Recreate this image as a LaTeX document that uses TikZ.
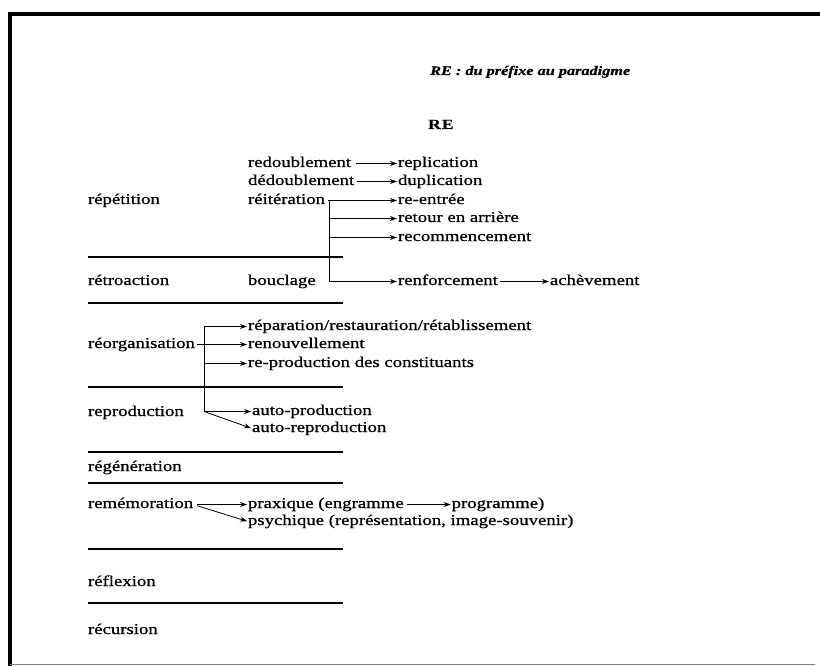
\documentclass[tikz,border=0pt]{standalone}
\usepackage{fontspec}
\setmainfont[FakeStretch=1.25, FakeBold=0.8]{Liberation Serif}
\usetikzlibrary{arrows.meta}
\begin{document}
\begin{tikzpicture}[x=1pt,y=-1pt,
  txt/.style={anchor=base west, inner sep=0pt, outer sep=0pt,
    text height=10pt, text depth=3pt, font=\fontsize{15}{18}\selectfont},
  arr/.style={-{Stealth[length=7pt,width=5pt]}, line width=0.8pt, shorten >=1pt},
  ln/.style={line width=0.8pt},
  rulebar/.style={line width=2.2pt},
  frame/.style={line width=4pt}]
\useasboundingbox (0,0) rectangle (820,666);

% page frame
\draw[frame] (8,14) -- (820,14);
\draw[frame] (10,12) -- (10,666);
\draw[gray, line width=1pt] (10,664.5) -- (815,664.5);

% headings
\node[anchor=base west, inner sep=0pt, font=\fontsize{13}{15}\selectfont\bfseries\itshape]
  (title) at (430,75) {RE : du préfixe au paradigme};
\node[anchor=base west, inner sep=0pt, font=\fontsize{14}{16}\selectfont\bfseries]
  (re) at (428,129) {R\hspace{1pt}E};

% left column
\node[txt] (repet)  at (88,204) {répétition};
\node[txt] (retro)  at (88,285) {rétroaction};
\node[txt] (reorg)  at (88,348) {réorganisation};
\node[txt] (reprod) at (88,416) {reproduction};
\node[txt] (regen)  at (88,471) {régénération};
\node[txt] (remem)  at (88,508) {remémoration};
\node[txt] (reflex) at (88,586) {réflexion};
\node[txt] (recurs) at (88,634) {récursion};

% separators
\foreach \y in {257,303,387,452,483,549,603}
  \draw[rulebar] (88,\y) -- (343,\y);

% répétition / rétroaction
\node[txt] (redoub)   at (248,167) {redoublement};
\node[txt] (dedoub)   at (248,185) {dédoublement};
\node[txt] (reit)     at (248,204) {réitération};
\node[txt] (boucl)    at (248,285) {bouclage};
\node[txt] (replic)   at (398,167) {replication};
\node[txt] (dupli)    at (398,185) {duplication};
\node[txt] (reentree) at (398,204) {re-entrée};
\node[txt] (retour)   at (398,222) {retour en arrière};
\node[txt] (recomm)   at (398,241) {recommencement};
\node[txt] (renf)     at (398,285) {renforcement};
\node[txt] (achev)    at ([xshift=52pt]renf.base east) {achèvement};

\draw[arr, shorten <=5pt] (redoub.east) -- (replic.west);
\draw[arr, shorten <=3pt] (dedoub.east) -- (dupli.west);
\draw[arr, shorten <=3pt] (reit.east) -- (reentree.west);
\coordinate (b1) at (329,0);
\draw[ln] (reentree.west -| b1) -- (renf.west -| b1);
\draw[arr] (retour.west -| b1) -- (retour.west);
\draw[arr] (recomm.west -| b1) -- (recomm.west);
\draw[arr] (renf.west -| b1) -- (renf.west);
\draw[arr, shorten <=2pt] (renf.east) -- (achev.west);

% réorganisation / reproduction
\node[txt] (repar)  at (248,330) {réparation/restauration/rétablissement};
\node[txt] (renouv) at (248,348) {renouvellement};
\node[txt] (reprc)  at (248,367) {re-production des constituants};
\node[txt] (autop)  at (252,415) {auto-production};
\node[txt] (autor)  at (252,432) {auto-reproduction};

\coordinate (b2) at (204,0);
\draw[ln] (repar.west -| b2) -- (autop.west -| b2);
\draw[arr] (repar.west -| b2) -- (repar.west);
\draw[arr, shorten <=2pt] (reorg.east) -- (renouv.west);
\draw[arr] (reprc.west -| b2) -- (reprc.west);
\draw[arr] (autop.west -| b2) -- (autop.west);
\draw[arr] (autop.west -| b2) -- (autor.west);

% remémoration
\node[txt] (prax)  at (248,508) {praxique (engramme};
\node[txt] (progr) at ([xshift=48pt]prax.base east) {programme)};
\node[txt] (psych) at (248,525) {psychique (représentation, image-souvenir)};

\draw[arr, shorten <=4pt] (remem.east) -- (prax.west);
\draw[arr, shorten <=4pt] (remem.east) -- (psych.west);
\draw[arr, shorten <=3pt] (prax.east) -- (progr.west);
\end{tikzpicture}
\end{document}
